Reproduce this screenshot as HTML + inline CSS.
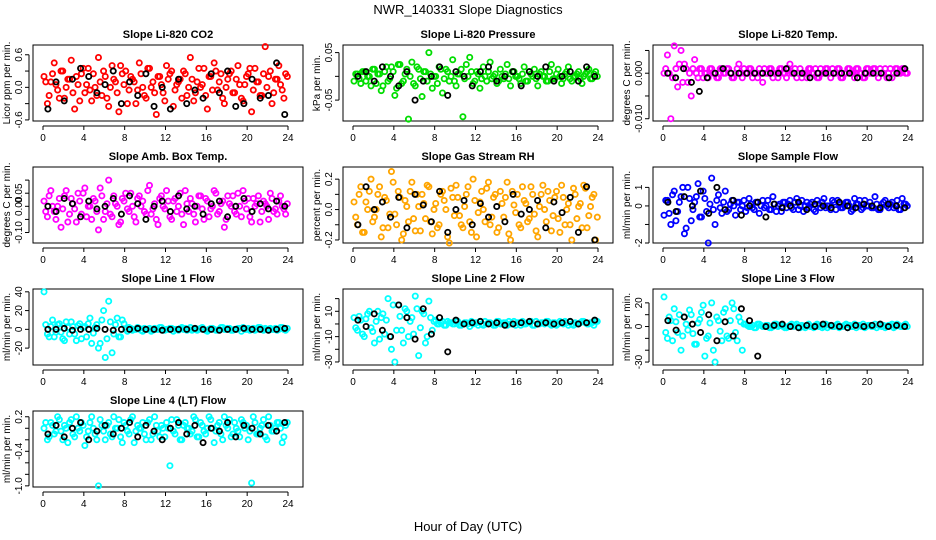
<!DOCTYPE html>
<html><head><meta charset="utf-8"><style>
body{margin:0;background:#fff;}
svg{display:block;font-family:"Liberation Sans",sans-serif;}
</style></head><body>
<svg id="chart" width="936" height="540" viewBox="0 0 936 540">
<text x="468" y="14" text-anchor="middle" font-size="13">NWR_140331  Slope Diagnostics</text>
<text x="468" y="531" text-anchor="middle" font-size="13">Hour of Day (UTC)</text>
</svg>
<script>
// panel metadata
const titles = ["Slope Li-820 CO2","Slope Li-820 Pressure","Slope Li-820 Temp.","Slope Amb. Box Temp.","Slope Gas Stream RH","Slope Sample Flow","Slope Line 1 Flow","Slope Line 2 Flow","Slope Line 3 Flow","Slope Line 4 (LT) Flow"];
const yTitles = ["Licor ppm per min.","kPa per min.","degrees C per min.","degrees C per min.","percent per min.","ml/min per min.","ml/min per min.","ml/min per min.","ml/min per min.","ml/min per min."];
const colors = ["#ff0000","#00dd00","#ff00ff","#ff00ff","#ffa500","#0000ff","#00ffff","#00ffff","#00ffff","#00ffff"];
const yMin = [-0.62,-0.094,-0.0105,-0.14,-0.22,-2.0,-38,-32.4,-32.5,-1.02];
const yMax = [0.78,0.066,0.0062,0.15,0.28,2.1,43,27.6,31.7,0.3];
const yTicks = [[-0.6,-0.3,0,0.3,0.6],[-0.05,0,0.05],[-0.01,-0.005,0,0.005],[-0.10,-0.05,0,0.05,0.10],[-0.2,-0.1,0,0.1,0.2],[-2,-1,0,1],[-20,0,20,40],[-30,-20,-10,0,10,20],[-30,-20,-10,0,10,20],[-1.0,-0.8,-0.6,-0.4,-0.2,0,0.2]];
const yTickLabels = [["-0.6","","0.0","","0.6"],["-0.05","","0.05"],["-0.010","","0.000",""],["-0.10","","0.00","0.05",""],["-0.2","","0.0","","0.2"],["-2","","0","1"],["-20","0","20","40"],["-30","","-10","","10",""],["-30","","","0","","20"],["-1.0","","","-0.4","","","0.2"]];
const xTicks = [0,4,8,12,16,20,24];
const valueScale = [0.01,0.0025,0.001,0.01,0.01,0.1,1,1,1,0.01];
// colored series A (scaled units)
const s0 = [20,-30,10,45,-5,30,-20,15,50,-40,5,25,-10,35,-25,0,55,-15,20,-35,40,10,-45,25,30,-5,15,-30,45,0,-20,35,10,-50,20,-10,40,25,-35,5,15,30,-15,55,-25,10,0,35,-40,20,45,-5,25,-30,15,30,-10,40,-20,5,25,-45,35,10,-15,75,20,-30,15,40,-5,25];
const s1 = [-4,2,-6,4,0,-8,6,2,-12,4,-4,8,-16,10,-6,2,-36,12,-8,6,-17,4,20,-10,0,8,-14,6,-4,14,-8,2,-34,10,16,-6,4,-10,8,-4,12,0,-6,6,-2,10,-8,4,0,-6,8,-4,2,6,-8,4,0,-4,10,-2,6,-6,2,8,-4,0,4,-6,2,6,-2,4];
const s2 = [0,4,-10,6,-3,5,2,-2,-5,3,-1,1,0,-1,1,0,-1,1,0,1,-1,0,2,-1,0,1,-1,0,1,-2,0,1,-1,0,1,0,-1,2,0,-1,1,0,-1,1,0,-1,1,0,1,-1,0,1,-1,0,1,0,-1,1,0,-1,1,0,1,-1,0,1,0,-1,1,0,1,0];
const s3 = [2,-4,6,-2,0,-8,4,-6,3,-1,5,-3,7,0,-5,2,-9,4,-2,10,-4,1,-7,3,5,-2,0,-6,4,2,-3,8,-1,-5,3,0,6,-4,2,-2,5,-7,1,3,-3,0,4,-5,2,-1,6,-3,1,-8,4,0,-2,5,-4,2,3,-6,0,4,-2,1,-5,3,-1,2,0,-3];
const s4 = [5,-10,15,-15,0,20,-5,10,-18,8,-12,25,-3,12,-20,6,-8,18,-14,2,10,-6,15,-16,4,-10,12,0,-22,8,16,-4,-12,10,-8,20,-18,5,0,14,-10,8,-15,12,-5,18,-20,3,10,-12,6,-8,15,-3,-18,10,0,12,-14,8,-6,16,-10,4,-20,10,2,-12,14,-4,8,-20];
const s5 = [-5,3,-10,8,-3,5,-15,10,-8,2,12,-6,4,-20,15,-10,6,-4,8,-2,3,-5,2,0,-3,4,-1,2,-4,3,0,-2,5,-3,1,2,-1,3,-2,4,0,-3,2,1,-2,3,-1,4,0,-2,2,3,-1,0,2,-3,4,1,-2,3,0,-1,5,-2,1,3,-1,2,0,-2,4,1];
const s6 = [40,-5,3,-8,5,-3,-12,2,8,-5,4,-10,3,6,-15,2,-20,10,-30,30,-25,5,-8,10,0,2,-1,0,1,-2,0,1,-1,0,2,-1,0,1,-2,0,1,0,-1,2,0,-1,1,0,-2,1,0,-1,2,0,1,-1,0,1,-2,0,1,0,-1,2,0,1,-1,0,1,0,2,-1];
const s7 = [5,-5,3,-10,8,-3,-15,10,5,-8,20,-20,-30,15,-5,12,-10,5,22,-25,10,-15,18,-5,3,0,2,-1,1,0,2,-1,0,1,-2,0,1,2,-1,0,1,-1,2,0,1,-1,0,2,1,-1,0,1,2,-1,0,1,0,2,-1,1,0,1,2,-1,0,1,0,2,1,0,1,2];
const s8 = [25,-10,5,15,-5,-20,8,-3,10,-15,3,12,-25,-8,20,-30,5,-12,15,-10,20,-5,8,-20,2,0,1,-1,2,0,1,-1,0,2,1,0,-1,1,0,2,-1,0,1,0,-1,2,1,0,-1,1,0,2,0,1,-1,0,2,1,0,-1,1,0,2,1,0,-1,1,2,0,1,0,2];
const s9 = [0,-20,10,-10,20,-5,5,-25,15,-15,0,10,-30,-5,20,-10,-100,5,-20,10,-15,0,15,-25,5,-10,20,-5,0,10,-20,15,-10,5,-15,0,10,-65,-5,15,-20,5,0,-10,20,-15,10,-5,0,15,-25,5,-10,20,0,-15,10,-5,15,0,-20,-95,10,-10,5,-15,20,-5,0,10,-25,5];
// colored series B (scaled units)
const t0 = [10,-15,25,5,-20,30,0,15,-10,20,-25,35,5,-5,25,-15,10,30,-20,0,15,-10,40,5,-30,20,10,-5,25,-15,35,0,-10,20,5,-25,15,30,-5,10,-20,25,0,15,-10,35,5,-15,20,-5,30,10,-20,0,25,-10,15,5,-25,20,35,-5,10,-15,25,0,30,-10,15,5,-20,20];
const t1 = [2,-2,4,-4,0,6,-6,2,-8,8,-2,4,-10,10,-4,6,0,-6,8,-2,4,-4,2,0,-6,6,-2,4,0,-4,2,6,-2,0,4,-4,2,-2,0,4,-2,2,-4,0,2,-2,4,0,-2,2,-4,4,0,-2,2,0,-4,4,-2,2,0,-2,4,-2,0,2,-2,0,4,-2,2,0];
const t2 = [1,0,-1,1,2,-2,1,0,1,0,1,-1,0,1,0,-1,1,0,1,0,-1,1,0,1,0,1,0,-1,0,1,0,1,0,-1,1,0,1,0,1,0,-1,0,1,0,1,-1,0,1,0,1,0,1,-1,0,1,0,1,0,-1,1,0,1,0,1,0,-1,1,0,1,0,1,0];
const t3 = [-2,4,0,-5,3,-1,6,-3,1,-6,2,5,-4,0,3,-2,7,-5,1,-3,4,0,-6,2,-1,5,-4,3,0,-2,6,-3,1,-7,4,-1,2,-5,3,0,-3,6,-2,1,-6,4,-1,3,-4,0,5,-2,2,-5,1,4,-3,0,6,-1,-4,3,1,-6,2,0,5,-2,-3,4,-1,1];
const t4 = [-5,10,-15,5,12,-8,0,15,-12,6,-3,18,-10,8,-16,2,12,-6,10,-14,4,16,-8,0,-12,10,6,-18,14,-4,8,-10,2,15,-15,6,-2,12,-8,18,-5,10,-12,4,8,-16,12,-2,-10,15,4,-6,10,-14,2,16,-8,6,-4,12,-15,8,0,-10,14,-6,4,16,-12,2,10,-5];
const t5 = [3,-4,6,-8,2,10,-12,4,-2,5,-6,8,-3,1,-2,3,-1,2,-3,1,0,2,-2,3,-1,1,-2,2,0,-1,3,-2,1,0,-3,2,1,-1,2,-2,3,0,-1,2,-3,1,2,-1,0,3,-2,1,-1,2,0,-2,1,3,-1,0,2,-1,1,-2,2,0,1,-1,3,-2,1,0];
const t6 = [5,-8,10,-3,6,-10,8,-5,3,-12,6,2,-8,12,-4,5,-15,20,-10,8,-5,12,-8,6,-2,1,0,2,-1,1,0,-2,1,0,2,-1,0,1,0,-1,2,1,0,-1,1,0,2,-1,0,1,-1,0,2,0,1,-1,0,1,2,0,-1,1,0,2,-1,0,1,0,-1,2,0,1];
const t7 = [-3,6,-8,4,10,-6,2,-12,8,3,-10,15,-5,6,-15,10,2,-8,12,-3,8,-10,5,2,0,1,-1,2,1,0,2,-1,1,0,2,1,-1,0,2,1,0,-1,2,0,1,2,0,-1,1,2,0,1,-1,2,0,1,2,0,1,-1,2,0,1,2,-1,0,1,2,0,1,-1,2];
const t8 = [-5,8,-12,4,10,-8,2,14,-6,-15,6,18,-10,3,-20,8,-4,12,-8,5,15,-12,4,2,1,0,-1,2,1,0,1,-1,2,0,1,-1,0,2,1,0,1,-1,2,0,1,0,-1,2,1,0,1,-1,0,2,1,0,-1,1,2,0,1,0,-1,2,1,0,1,-1,2,0,1,0];
const t9 = [10,-15,5,-5,15,-20,0,10,-10,20,-5,5,-15,10,0,-20,15,-5,5,-10,20,0,-15,10,-5,15,-25,5,0,-10,10,-20,20,-5,5,-15,0,15,-10,5,-20,10,0,-5,15,-15,5,-10,20,0,-5,10,-20,5,15,-10,0,-15,10,5,-5,20,-10,0,15,-20,5,-5,10,0,-15,10];
// black series (scaled units)
const b0 = [-40,10,-25,15,35,20,-10,5,30,-30,10,-15,25,-35,0,-40,15,-30,-5,-20,25,-10,30,-35,-30,15,-20,-15,45,-50];
const b1 = [0,4,-4,8,0,-8,4,-20,-4,0,8,-16,4,0,-8,4,8,-4,0,4,-8,4,0,8,-4,0,4,-4,8,0];
const b2 = [0,-1,1,-2,-4,-1,0,1,0,0,0,0,0,0,0,1,0,0,-1,0,0,0,0,0,-1,0,0,0,-1,0,1];
const b3 = [0,-2,3,1,-4,2,-1,0,3,-3,4,1,-5,0,2,-2,4,-1,0,-3,1,2,-4,0,3,-2,1,-1,2,0];
const b4 = [-10,15,0,5,-5,8,-12,10,3,-8,12,-15,0,6,-10,4,-5,2,-8,10,-3,0,6,-12,5,-2,8,-15,15,-20];
const b5 = [2,-3,5,0,8,-4,10,-2,3,-5,0,2,-6,1,-1,0,2,-2,1,0,-1,2,0,-1,1,0,-1,1,0,-1];
const b6 = [0,0,1,-1,0,0,1,0,-1,0,0,1,0,0,-1,0,0,0,1,0,0,-1,0,0,1,0,0,-1,0,1];
const b7 = [3,-2,8,-5,-10,15,5,-12,12,-8,5,-22,3,0,1,2,0,1,-1,0,1,2,0,1,0,1,2,0,1,3];
const b8 = [5,-3,8,2,-5,10,-12,4,-8,15,5,-25,0,1,2,0,-1,1,0,2,1,0,-1,1,0,1,2,0,1,0];
const b9 = [-10,5,-15,0,10,-20,-5,5,-10,0,10,-15,5,-5,-20,0,10,-10,5,-25,0,-5,10,-15,5,0,-10,5,-5,10];
const colorSeries = [s0,s1,s2,s3,s4,s5,s6,s7,s8,s9];
const colorSeriesB = [t0,t1,t2,t3,t4,t5,t6,t7,t8,t9];
const blackSeries = [b0,b1,b2,b3,b4,b5,b6,b7,b8,b9];

const NS = "http://www.w3.org/2000/svg";
const svg = document.getElementById("chart");
const colLeft = [33,343,653], rowTop = [45,167,289,411], boxW = 270, boxH = 76;
function mk(tag, attrs, parent){const e=document.createElementNS(NS,tag);for(const k in attrs)e.setAttribute(k,attrs[k]);parent.appendChild(e);return e;}

for(let p=0;p<10;p++){
  const L = colLeft[p%3], T = rowTop[Math.floor(p/3)];
  const g = mk("g",{},svg);
  
  
  const xs = h => L + 10 + h*245/24;
  const ys = v => T + boxH - (v - yMin[p])/(yMax[p]-yMin[p])*boxH;
  const t = mk("text",{x:L+boxW/2,y:T-7,"text-anchor":"middle","font-size":"11","font-weight":"bold"},g);
  t.textContent = titles[p];
  
  
  const box = mk("rect",{x:L,y:T,width:boxW,height:boxH,fill:"none",stroke:"#000","stroke-width":"1"},g);
  
  
  const xa = mk("g",{},g);
  
  
  const ay = T+boxH+5;
  mk("line",{x1:xs(0),x2:xs(24),y1:ay,y2:ay,stroke:"#000"},xa);
  xTicks.forEach(h=>{
    mk("line",{x1:xs(h),x2:xs(h),y1:ay,y2:ay+4,stroke:"#000"},xa);
    const tl = mk("text",{x:xs(h),y:ay+15,"text-anchor":"middle","font-size":"10"},xa);
    tl.textContent = h;
    
    
  });
  const ya = mk("g",{},g);
  
  
  const ax = L-4;
  const tk = yTicks[p];
  mk("line",{x1:ax,x2:ax,y1:ys(tk[0]),y2:ys(tk[tk.length-1]),stroke:"#000"},ya);
  tk.forEach((v,i)=>{
    mk("line",{x1:ax,x2:ax-4,y1:ys(v),y2:ys(v),stroke:"#000"},ya);
    if(yTickLabels[p][i]){
      const tl = mk("text",{x:0,y:0,"text-anchor":"middle","font-size":"10",transform:`translate(${ax-7},${ys(v)}) rotate(-90)`},ya);
      tl.textContent = yTickLabels[p][i];
      
      
    }
  });
  const yt = mk("text",{x:0,y:0,"text-anchor":"middle","font-size":"10",transform:`translate(${L-23},${T+boxH/2}) rotate(-90)`},g);
  yt.textContent = yTitles[p];
  
  
  const sc = valueScale[p];
  const cg = mk("g",{},g);
  
  
  [[colorSeries[p],0.3],[colorSeriesB[p],0.8]].forEach(([arr,off])=>{
    arr.forEach((v,i)=>{
      const h = (i+off)*24/arr.length;
      const c = mk("circle",{cx:xs(h),cy:ys(v*sc),r:2.6,fill:"none",stroke:colors[p],"stroke-width":"1.8"},cg);
      
      
    });
  });
  const bs = blackSeries[p];
  const bg = mk("g",{},g);
  
  
  bs.forEach((v,i)=>{
    const h = (i+0.6)*24/bs.length;
    const c = mk("circle",{cx:xs(h),cy:ys(v*sc),r:2.6,fill:"none",stroke:"#000","stroke-width":"1.8"},bg);
    
    
  });
}
</script>
</body></html>
